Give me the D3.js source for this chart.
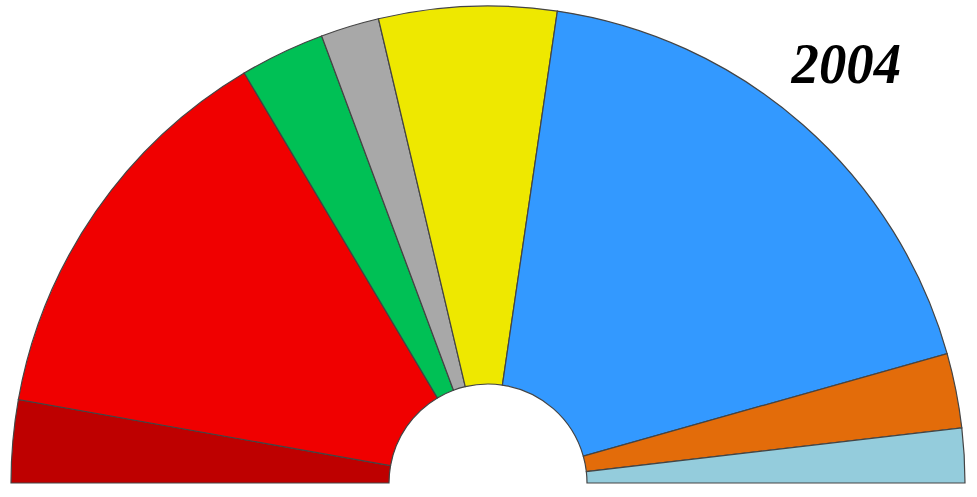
<!DOCTYPE html>
<html>
<head>
<meta charset="utf-8">
<script src="https://cdn.jsdelivr.net/npm/d3@7"></script>
<style>
  html, body { margin: 0; padding: 0; background: #fff; }
  svg { display: block; }
</style>
</head>
<body>
<svg id="chart" width="977" height="497"></svg>
<script>
const groups = ["GUE/NGL", "PES", "Greens/EFA", "NI", "ALDE", "EPP-ED", "IND/DEM", "UEN"];
const seats = [41, 200, 42, 29, 88, 268, 37, 27];
const colors = ["#BE0000", "#F00000", "#00C055", "#A8A8A8", "#EEE800", "#3399FF", "#E36C0A", "#94CCDC"];
const title = "2004";

const svg = d3.select("#chart");
const cx = 488, cy = 483, outerR = 477, innerR = 99;

const data = groups.map((g, i) => ({ group: g, seats: seats[i], color: colors[i] }));

const pie = d3.pie().sort(null).value(d => d.seats)
  .startAngle(-Math.PI / 2).endAngle(Math.PI / 2);
const arc = d3.arc().innerRadius(innerR).outerRadius(outerR);

const g = svg.append("g").attr("transform", `translate(${cx},${cy})`);
g.selectAll("path").data(pie(data)).join("path")
  .attr("d", arc)
  .attr("fill", d => d.data.color)
  .attr("stroke", "#444")
  .attr("stroke-width", 1.2);

svg.append("text")
  .attr("transform", "translate(901,83) scale(0.96,1)")
  .attr("text-anchor", "end")
  .attr("font-family", "'Liberation Serif', 'Times New Roman', serif")
  .attr("font-weight", "bold")
  .attr("font-style", "italic")
  .attr("font-size", 57)
  .attr("fill", "#000")
  .text(title);
</script>
</body>
</html>
